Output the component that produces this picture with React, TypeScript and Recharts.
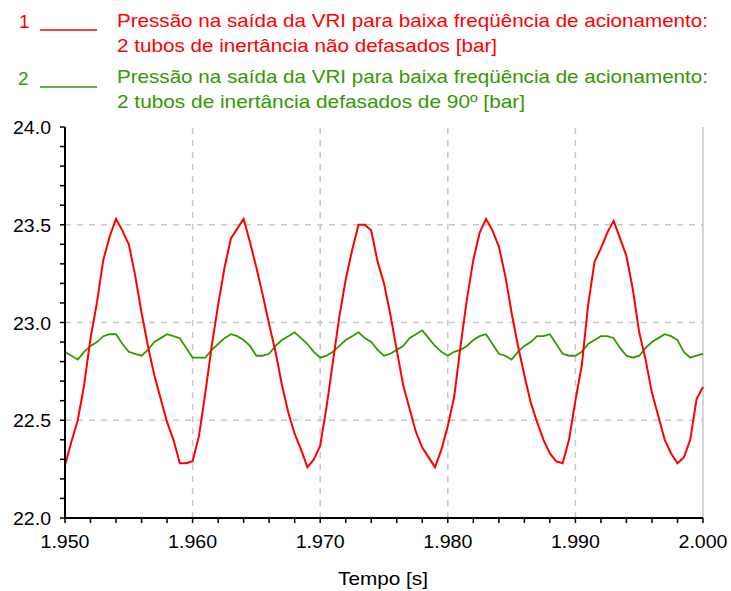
import React from 'react';
import { LineChart, Line, XAxis, YAxis, ReferenceLine } from 'recharts';

const FONT = "'Liberation Sans Narrow', 'Liberation Sans', Arial, sans-serif";
const RED = '#ff0000';
const GREEN = '#339900';

// sampled every 0.5 ms from 1.950 s to 2.000 s
const startTime = 1.95;
const sampleStep = 0.0005;

// series 1: 2 tubos de inertância não defasados [bar]
const pressureInPhase = [
  22.27, 22.39, 22.5, 22.68, 22.92, 23.1, 23.32, 23.44, 23.53, 23.47,
  23.4, 23.24, 23.05, 22.88, 22.73, 22.61, 22.49, 22.4, 22.28, 22.28,
  22.29, 22.42, 22.64, 22.88, 23.09, 23.28, 23.43, 23.48, 23.53, 23.41,
  23.28, 23.14, 22.99, 22.85, 22.68, 22.54, 22.43, 22.35, 22.26, 22.3,
  22.37, 22.57, 22.8, 23.03, 23.22, 23.37, 23.5, 23.5, 23.47, 23.31,
  23.2, 23.04, 22.86, 22.68, 22.56, 22.44, 22.36, 22.31, 22.26, 22.35,
  22.47, 22.62, 22.88, 23.12, 23.32, 23.46, 23.53, 23.47, 23.39, 23.24,
  23.05, 22.88, 22.73, 22.59, 22.49, 22.4, 22.33, 22.29, 22.28, 22.4,
  22.6, 22.78, 23.09, 23.31, 23.38, 23.46, 23.52, 23.43, 23.34, 23.17,
  22.95, 22.81, 22.64, 22.52, 22.4, 22.33, 22.28, 22.31, 22.4, 22.61,
  22.67,
];

// series 2: 2 tubos de inertância defasados de 90º [bar]
const pressureShifted90 = [
  22.85, 22.83, 22.81, 22.85, 22.88, 22.9, 22.93, 22.94, 22.94, 22.89,
  22.85, 22.84, 22.83, 22.86, 22.9, 22.92, 22.94, 22.93, 22.92, 22.87,
  22.82, 22.82, 22.82, 22.86, 22.89, 22.92, 22.94, 22.93, 22.91, 22.88,
  22.83, 22.83, 22.84, 22.88, 22.91, 22.93, 22.95, 22.92, 22.89, 22.85,
  22.82, 22.83, 22.85, 22.88, 22.91, 22.93, 22.95, 22.92, 22.9, 22.86,
  22.83, 22.84, 22.86, 22.88, 22.92, 22.94, 22.96, 22.92, 22.88, 22.85,
  22.83, 22.85, 22.86, 22.88, 22.91, 22.93, 22.94, 22.89, 22.84, 22.83,
  22.81, 22.85, 22.88, 22.9, 22.93, 22.93, 22.94, 22.89, 22.84, 22.83,
  22.83, 22.85, 22.89, 22.91, 22.93, 22.93, 22.92, 22.87, 22.83, 22.82,
  22.83, 22.87, 22.9, 22.92, 22.94, 22.93, 22.91, 22.85, 22.82, 22.83,
  22.84,
];

const xTicks = [
  1.95, 1.952, 1.954, 1.956, 1.958, 1.96, 1.962, 1.964, 1.966, 1.968,
  1.97, 1.972, 1.974, 1.976, 1.978, 1.98, 1.982, 1.984, 1.986, 1.988,
  1.99, 1.992, 1.994, 1.996, 1.998, 2.0,
];
const xGridValues = [1.96, 1.97, 1.98, 1.99];

const yTicks = [
  22.0, 22.1, 22.2, 22.3, 22.4, 22.5, 22.6, 22.7, 22.8, 22.9,
  23.0, 23.1, 23.2, 23.3, 23.4, 23.5, 23.6, 23.7, 23.8, 23.9, 24.0,
];
const yGridValues = [22.5, 23.0, 23.5];

const legendTitle = 'Pressão na saída da VRI para baixa freqüência de acionamento:';
const legendInPhase = '2 tubos de inertância não defasados [bar]';
const legendShifted = '2 tubos de inertância defasados de 90º [bar]';

const data = pressureInPhase.map((v, i) => ({
  time: Math.round((startTime + i * sampleStep) * 10000) / 10000,
  inPhase: v,
  shifted: pressureShifted90[i],
}));

const AXIS_X = 65;
const AXIS_Y = 518;

const YTick = (props: any) => {
  const { y, payload } = props;
  const v = payload.value as number;
  const major = Math.round(v * 10) % 5 === 0;
  return (
    <g>
      <line x1={AXIS_X - 5} x2={AXIS_X} y1={y} y2={y} stroke="#000" strokeWidth={1.5} />
      {major && (
        <text x={51} y={y + 7} textAnchor="end" fontFamily={FONT} fontSize={19} fill="#000"
          textLength={38} lengthAdjust="spacingAndGlyphs">
          {v.toFixed(1)}
        </text>
      )}
    </g>
  );
};

const XTick = (props: any) => {
  const { x, payload } = props;
  const v = payload.value as number;
  const major = Math.round(v * 1000) % 10 === 0;
  return (
    <g>
      <line x1={x} x2={x} y1={AXIS_Y} y2={AXIS_Y + 5} stroke="#000" strokeWidth={1.5} />
      {major && (
        <text x={x} y={AXIS_Y + 30} textAnchor="middle" fontFamily={FONT} fontSize={19} fill="#000"
          textLength={49} lengthAdjust="spacingAndGlyphs">
          {v.toFixed(3)}
        </text>
      )}
    </g>
  );
};

export default function App() {
  return (
    <div style={{ position: 'absolute', left: 0, top: 0, width: 731, height: 591, background: '#fff' }}>
      <LineChart width={731} height={591} data={data} margin={{ top: 127, right: 28, bottom: 33, left: 0 }}>
        <XAxis dataKey="time" type="number" domain={[1.95, 2.0]} ticks={xTicks} interval={0}
          tick={<XTick />} tickLine={false} height={40}
          axisLine={{ stroke: '#000', strokeWidth: 2 }} />
        <YAxis type="number" domain={[22, 24]} ticks={yTicks} interval={0} width={65}
          tick={<YTick />} tickLine={false}
          axisLine={{ stroke: '#000', strokeWidth: 2 }} />
        {xGridValues.map((v) => (
          <ReferenceLine key={`gx${v}`} x={v} stroke="#c8c8c8" strokeWidth={1.5} strokeDasharray="6 6" />
        ))}
        {yGridValues.map((v) => (
          <ReferenceLine key={`gy${v}`} y={v} stroke="#c8c8c8" strokeWidth={1.5} strokeDasharray="6 6" />
        ))}
        <ReferenceLine x={2.0} stroke="#c8c8c8" strokeWidth={1.5} />
        <Line type="linear" dataKey="shifted" stroke={GREEN} strokeWidth={1.8} dot={false} isAnimationActive={false} />
        <Line type="linear" dataKey="inPhase" stroke={RED} strokeWidth={2} dot={false} isAnimationActive={false} />
      </LineChart>
      <svg width={731} height={591} style={{ position: 'absolute', left: 0, top: 0, pointerEvents: 'none' }}>
        <g fontFamily={FONT} fontSize={19}>
          <text x={19} y={28} fill={RED}>1</text>
          <line x1={40} x2={97} y1={30} y2={30} stroke={RED} strokeWidth={1.5} />
          <text x={117} y={27} fill={RED} textLength={591} lengthAdjust="spacingAndGlyphs">{legendTitle}</text>
          <text x={117} y={52} fill={RED} textLength={380} lengthAdjust="spacingAndGlyphs">{legendInPhase}</text>
          <text x={18} y={85} fill={GREEN}>2</text>
          <line x1={40} x2={97} y1={87} y2={87} stroke={GREEN} strokeWidth={1.5} />
          <text x={117} y={83} fill={GREEN} textLength={591} lengthAdjust="spacingAndGlyphs">{legendTitle}</text>
          <text x={117} y={108} fill={GREEN} textLength={408} lengthAdjust="spacingAndGlyphs">{legendShifted}</text>
          <text x={383} y={585} fill="#000" textAnchor="middle" textLength={90} lengthAdjust="spacingAndGlyphs">Tempo [s]</text>
        </g>
      </svg>
    </div>
  );
}
